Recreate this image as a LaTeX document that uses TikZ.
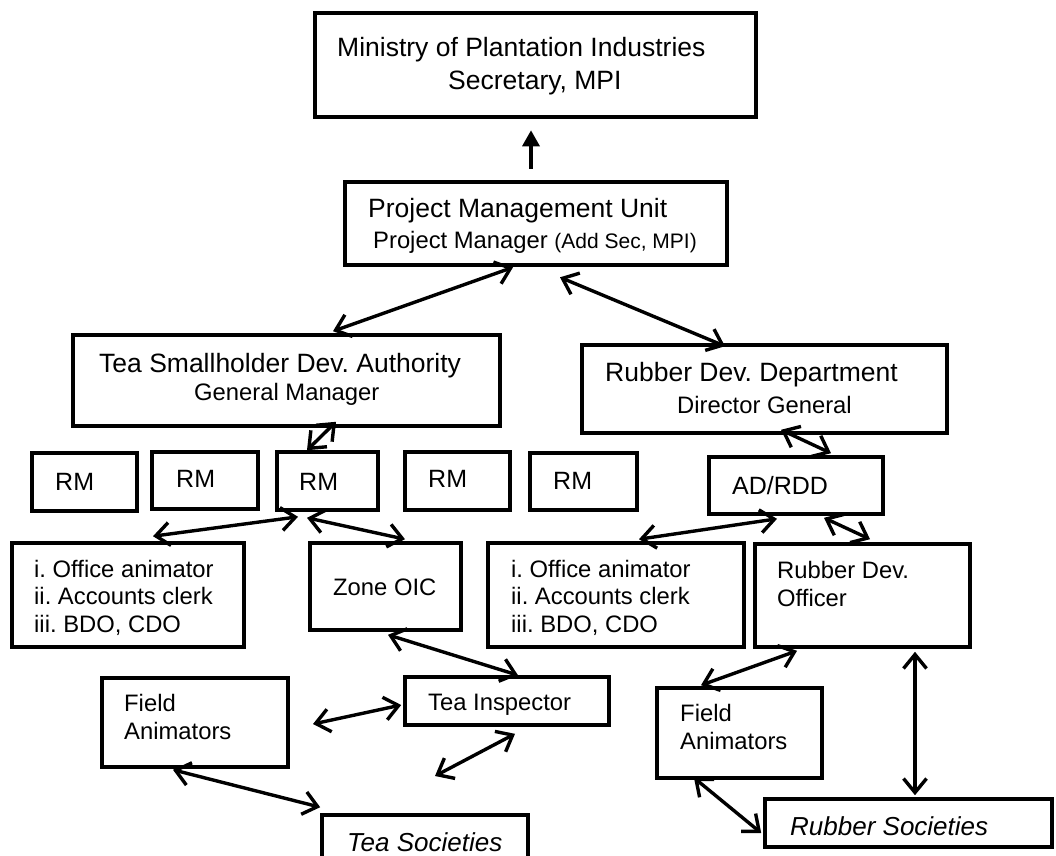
\documentclass[tikz,border=0pt]{standalone}
\usepackage{fontspec}
\setmainfont{Liberation Sans}
\usetikzlibrary{arrows.meta}
\frenchspacing
\tikzset{
  box/.style={draw, line width=3.6pt, inner sep=0pt},
  topbox/.style={box, line width=4.6pt},
  hdtxt/.style={font=\fontsize{26.5}{31}\selectfont, anchor=base west, inner sep=0pt},
  txt/.style={font=\fontsize{23.8}{27.6}\selectfont, anchor=base west, inner sep=0pt, align=left},
  rmtxt/.style={font=\fontsize{25}{30}\selectfont, anchor=base west, inner sep=0pt},
  soctxt/.style={font=\fontsize{26}{31}\selectfont\itshape, anchor=base west, inner sep=0pt},
  link/.style={{Straight Barb[length=14pt,width=23pt]}-{Straight Barb[length=14pt,width=23pt]}, line width=3.4pt},
  uparrow/.style={-{Triangle[length=16pt,width=17pt]}, line width=3.4pt},
}

\begin{document}
\begin{tikzpicture}[x=1pt, y=-1pt]
    \useasboundingbox (0,0) rectangle (1056,855);
    \clip (0,0) rectangle (1056,855);

    % top levels
    \node[topbox, minimum width=441pt, minimum height=104pt] (mpi) at (535.5,65) {};
    \node[hdtxt] (mpi1) at (337,56) {Ministry of Plantation Industries};
    \node[hdtxt] (mpi2) at (448,89) {Secretary, MPI};
    \node[topbox, minimum width=382pt, minimum height=83pt] (pmu) at (536,223.5) {};
    \node[hdtxt] (pmu1) at (368,217) {Project Management Unit};
    \node[txt] (pmu2) at (373,248) {Project Manager {\fontsize{21}{25}\selectfont (Add Sec, MPI)}};

    \node[box, minimum width=427pt, minimum height=91pt] (tsda) at (286.5,380.5) {};
    \node[hdtxt] (tsda1) at (99,372) {Tea Smallholder Dev. Authority};
    \node[txt] (tsda2) at (194,400) {General Manager};
    \node[box, minimum width=365pt, minimum height=88pt] (rdd) at (764.5,389) {};
    \node[hdtxt] (rdd1) at (605,381) {Rubber Dev. Department};
    \node[txt] (rdd2) at (677,413) {Director General};

    % regional managers
    \node[box, minimum width=105pt, minimum height=58pt] (rm1) at (84.5,482) {};
    \node[rmtxt] at (55,490) {RM};
    \node[box, minimum width=106pt, minimum height=57pt] (rm2) at (205,480.5) {};
    \node[rmtxt] at (176,487) {RM};
    \node[box, minimum width=101pt, minimum height=58pt] (rm3) at (327.5,481) {};
    \node[rmtxt] at (299,490) {RM};
    \node[box, minimum width=105pt, minimum height=58pt] (rm4) at (457.5,481) {};
    \node[rmtxt] at (428,487) {RM};
    \node[box, minimum width=107pt, minimum height=57pt] (rm5) at (583.5,481.5) {};
    \node[rmtxt] at (553,489) {RM};
    \node[box, minimum width=174pt, minimum height=57pt] (adrdd) at (796,485.5) {};
    \node[rmtxt] at (732,494) {AD/RDD};

    % staff (base of a multi-line node is its last line)
    \node[box, minimum width=232pt, minimum height=104pt] (off1) at (128,595) {};
    \node[txt] (off1t) at (34,632.5) {i. Office animator\\ii. Accounts clerk\\iii. BDO, CDO};
    \node[box, minimum width=151pt, minimum height=87pt] (zone) at (385.5,586.5) {};
    \node[txt] (zonet) at (333,595) {Zone OIC};
    \node[box, minimum width=256pt, minimum height=104pt] (off2) at (616,595) {};
    \node[txt] (off2t) at (511,632.5) {i. Office animator\\ii. Accounts clerk\\iii. BDO, CDO};
    \node[box, minimum width=215pt, minimum height=103pt] (rdo) at (862.5,595.5) {};
    \node[txt] (rdot) at (777,606) {Rubber Dev.\\Officer};

    % field level
    \node[box, minimum width=204pt, minimum height=48pt] (tinsp) at (507,701) {};
    \node[txt] (tinspt) at (428,710) {Tea Inspector};
    \node[box, minimum width=186pt, minimum height=89pt] (fa1) at (195,722.5) {};
    \node[txt] (fa1t) at (124,739.5) {Field\\Animators};
    \node[box, minimum width=165pt, minimum height=90pt] (fa2) at (739.5,733) {};
    \node[txt] (fa2t) at (680,749.5) {Field\\Animators};
    \node[box, minimum width=206pt, minimum height=55pt] (tsoc) at (425,842.5) {};
    \node[soctxt] (tsoct) at (347,851) {Tea Societies};
    \node[box, minimum width=287pt, minimum height=48pt] (rsoc) at (908.5,823) {};
    \node[soctxt] (rsoct) at (790,835) {Rubber Societies};

    \coordinate (faend) at (313,724);
    \coordinate (tsend) at (435,776);

    \draw[uparrow] ([shift={(-5,-11)}]pmu.north) -- ([shift={(-4.5,11)}]mpi.south);
    \draw[link] ([xshift=-23pt]pmu.south) -- ([shift={(46.5,-2)}]tsda.north);
    \draw[link] ([shift={(24,10)}]pmu.south) -- ([shift={(-39.5,3)}]rdd.north);
    \draw[link] ([shift={(49.5,-6)}]tsda.south) -- ([shift={(-20.5,0)}]rm3.north);
    \draw[link] ([shift={(16.5,-5)}]rdd.south) -- ([shift={(35,-2)}]adrdd.north);
    \draw[link] ([shift={(-29.5,5)}]rm3.south) -- ([shift={(25,-5)}]off1.north);
    \draw[link] ([shift={(-20.5,6)}]rm3.south) -- ([shift={(19.5,-2)}]zone.north);
    \draw[link] ([shift={(-19,3)}]adrdd.south) -- ([shift={(23,-2)}]off2.north);
    \draw[link] ([shift={(28,2)}]adrdd.south) -- ([shift={(7.5,-3)}]rdo.north);
    \draw[link] ([shift={(2.5,3)}]zone.south) -- ([shift={(11,0)}]tinsp.north);
    \draw[link] ([shift={(-2,4)}]tinsp.west) -- (faend);
    \draw[link] ([shift={(8,7)}]tinsp.south) -- (tsend);
    \draw[link] ([shift={(-22,1)}]fa1.south) -- ([shift={(0,-6)}]tsoc.north west);
    \draw[link] ([shift={(-65.5,2)}]rdo.south) -- ([shift={(-38.5,-1)}]fa2.north);
    \draw[link] ([shift={(52.5,3)}]rdo.south) -- ([shift={(6.5,-2)}]rsoc.north);
    \draw[link] ([shift={(-45.5,-2)}]fa2.south) -- ([shift={(-2,10)}]rsoc.west);
\end{tikzpicture}
\end{document}
